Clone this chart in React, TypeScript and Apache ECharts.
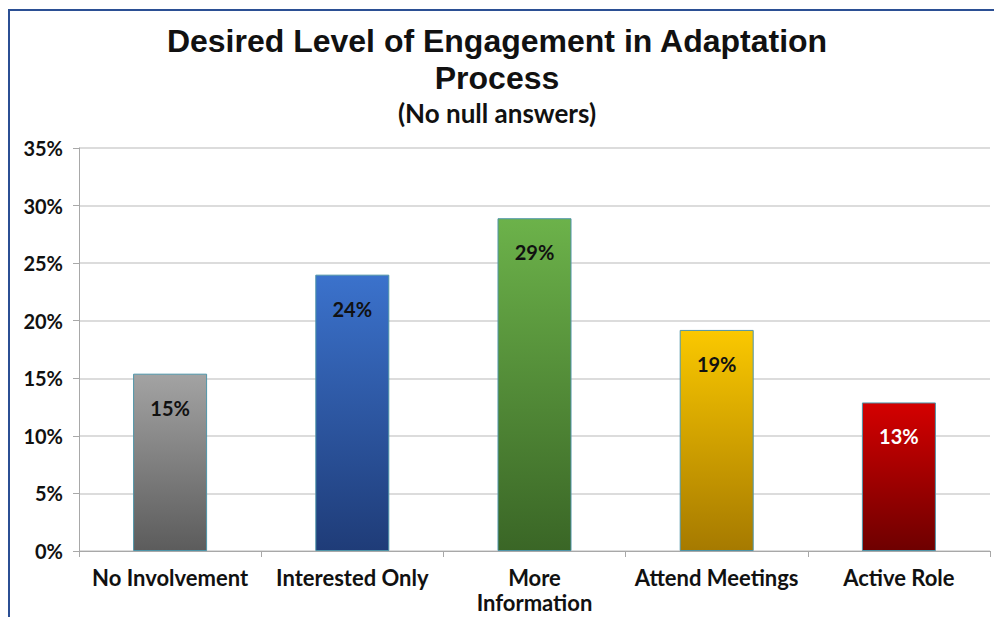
import React, { useEffect, useRef } from "react";
import * as echarts from "echarts";

const categories = ["No Involvement", "Interested Only", "More\nInformation", "Attend Meetings", "Active Role"];
const values = [15.4, 24.0, 28.9, 19.2, 12.9];
const yTicks = [0, 5, 10, 15, 20, 25, 30, 35];
const topColors = ["#a3a3a3", "#3b72cc", "#6cb24a", "#fac800", "#d40000"];
const bottomColors = ["#5c5c5c", "#1f3c78", "#3a6626", "#a67a00", "#6e0000"];
const labelColors = ["#111", "#111", "#111", "#111", "#fff"];

const FONT = "Lato, 'Open Sans', sans-serif";
const TITLE_FONT = "'Liberation Sans', Arial, sans-serif";

export default function App() {
  const ref = useRef<HTMLDivElement>(null);
  useEffect(() => {
    if (!ref.current) return;
    const chart = echarts.init(ref.current, undefined, { renderer: "svg" });
    chart.setOption({
      animation: false,
      backgroundColor: "#ffffff",
      title: [
        {
          text: "Desired Level of Engagement in Adaptation",
          left: "center",
          top: 23,
          padding: 0,
          textStyle: { fontFamily: TITLE_FONT, fontSize: 32, lineHeight: 36, fontWeight: "bold", color: "#111" },
        },
        {
          text: "Process",
          left: "center",
          top: 60,
          padding: 0,
          textStyle: { fontFamily: TITLE_FONT, fontSize: 32, lineHeight: 36, fontWeight: "bold", color: "#111" },
        },
        {
          text: "(No null answers)",
          left: "center",
          top: 100,
          padding: 0,
          textStyle: { fontFamily: FONT, fontSize: 26, fontWeight: "bold", color: "#111" },
        },
      ],
      graphic: [
        { type: "line", shape: { x1: 9, y1: 10, x2: 994, y2: 10 }, style: { stroke: "#2b4f94", lineWidth: 2 } },
        { type: "line", shape: { x1: 9, y1: 9, x2: 9, y2: 617 }, style: { stroke: "#2b4f94", lineWidth: 2 } },
      ],
      grid: { left: 79, right: 4, top: 148, bottom: 66 },
      xAxis: {
        type: "category",
        data: categories,
        axisLine: { lineStyle: { color: "#a8a8a8" } },
        axisTick: { show: true, alignWithLabel: false, length: 6, lineStyle: { color: "#a8a8a8" } },
        axisLabel: {
          fontFamily: FONT,
          fontSize: 22,
          fontWeight: "bold",
          color: "#111",
          margin: 14,
          lineHeight: 25,
          interval: 0,
        },
      },
      yAxis: {
        type: "value",
        min: 0,
        max: 35,
        interval: 5,
        axisLine: { show: true, lineStyle: { color: "#a8a8a8" } },
        axisTick: { show: true, length: 6, lineStyle: { color: "#a8a8a8" } },
        splitLine: { lineStyle: { color: "#d0d0d0", width: 1.5 } },
        axisLabel: {
          fontFamily: FONT,
          fontSize: 20,
          fontWeight: "bold",
          color: "#111",
          margin: 16,
          formatter: (v: number) => (yTicks.includes(v) ? v + "%" : ""),
        },
      },
      series: [
        {
          type: "bar",
          barWidth: 74,
          data: values.map((v, i) => ({
            value: v,
            itemStyle: {
              color: new echarts.graphic.LinearGradient(0, 0, 0, 1, [
                { offset: 0, color: topColors[i] },
                { offset: 1, color: bottomColors[i] },
              ]),
              borderColor: "#4e94a8",
              borderWidth: 1,
            },
            label: {
              show: true,
              position: "insideTop",
              distance: 24,
              fontFamily: FONT,
              fontSize: 20,
              fontWeight: "bold",
              color: labelColors[i],
              formatter: () => Math.round(v) + "%",
            },
          })),
        },
      ],
    });
    return () => chart.dispose();
  }, []);
  return <div ref={ref} style={{ position: "fixed", left: 0, top: 0, width: 994, height: 617 }} />;
}
